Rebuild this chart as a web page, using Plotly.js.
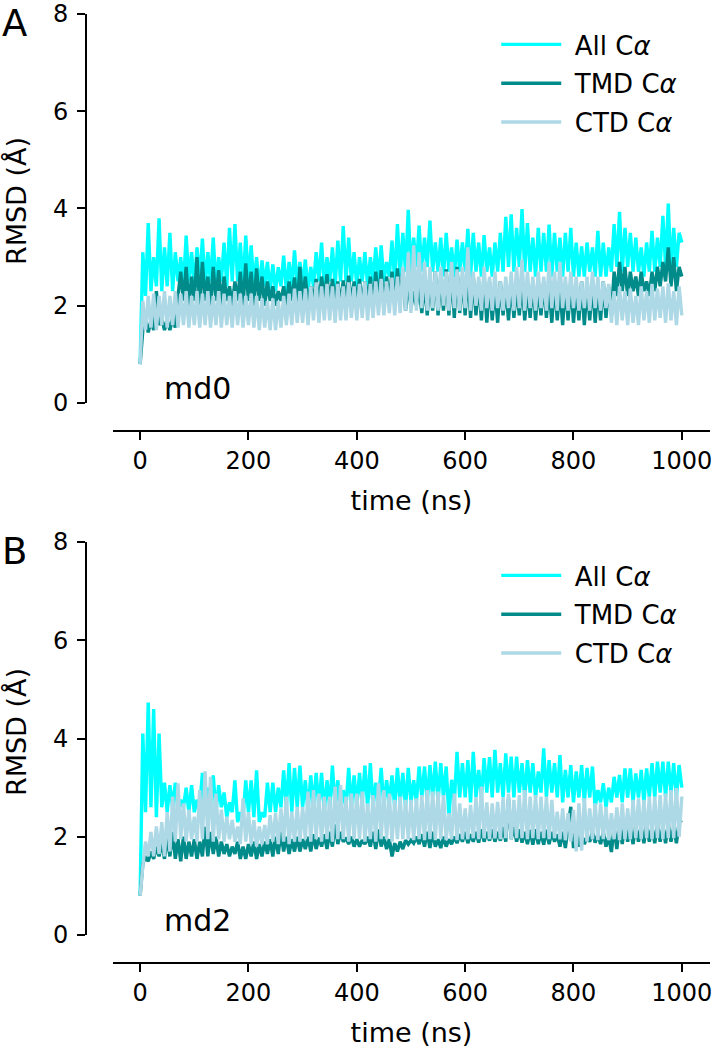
<!DOCTYPE html>
<html>
<head>
<meta charset="utf-8">
<script src="https://cdn.plot.ly/plotly-3.0.1.min.js"></script>
<style>
  html, body { margin: 0; padding: 0; background: #fff; }
  #graph { width: 714px; height: 1050px; }
</style>
</head>
<body>
<div id="graph"></div>
<script>
// RMSD traces, every 5 ns (0 .. 1000 ns)
var step = 5;

// panel A (md0)
var allA = [0.8,3.1,2.2,3.7,2.3,3.0,2.4,3.8,2.3,3.2,
  2.4,3.5,2.3,3.1,2.5,3.0,2.4,3.44,2.5,3.1,
  2.4,3.2,2.5,3.38,2.4,3.1,2.5,3.4,2.4,3.0,
  2.5,3.3,2.4,3.6,2.5,3.68,2.5,3.3,2.4,3.44,
  2.5,3.24,2.4,3.0,2.3,2.93,2.4,2.9,2.3,2.85,
  2.3,2.79,2.4,3.03,2.3,2.9,2.4,3.14,2.4,2.9,
  2.4,2.95,2.3,2.8,2.4,3.1,2.5,3.3,2.4,3.0,
  2.5,3.2,2.4,3.34,2.5,3.64,2.5,3.4,2.5,3.1,
  2.4,3.0,2.5,3.1,2.4,3.0,2.5,3.2,2.5,3.24,
  2.5,2.9,2.6,3.34,2.5,3.68,2.6,3.5,2.7,3.97,
  2.7,3.4,2.8,3.65,2.7,3.4,2.8,3.75,2.7,3.3,
  2.7,3.4,2.6,3.5,2.7,3.2,2.6,3.36,2.7,3.3,
  2.7,3.58,2.6,3.5,2.7,3.3,2.6,3.45,2.7,3.2,
  2.6,3.3,2.7,3.5,2.7,3.83,2.8,3.88,2.7,3.6,
  2.8,3.99,2.7,3.7,2.7,3.4,2.6,3.6,2.7,3.5,
  2.7,3.67,2.6,3.5,2.7,3.4,2.6,3.5,2.7,3.6,
  2.6,3.3,2.6,3.22,2.6,3.3,2.7,3.2,2.6,3.54,
  2.6,3.3,2.6,3.2,2.7,3.68,2.8,3.93,2.7,3.6,
  2.8,3.5,2.7,3.4,2.7,3.2,2.6,3.3,2.7,3.54,
  2.7,3.4,2.8,3.85,2.8,4.1,2.7,3.6,2.8,3.5,
  3.3];
var tmdA = [0.8,1.5,1.7,1.45,1.7,1.5,2.3,1.6,1.75,1.5,
  1.7,1.5,1.75,1.55,2.2,2.7,2.1,2.8,2.0,2.6,
  2.1,3.0,2.0,2.9,2.1,2.6,2.0,2.8,2.1,2.73,
  2.0,2.6,2.1,2.4,2.0,2.5,2.1,2.7,2.0,2.87,
  2.1,2.7,2.0,2.77,2.1,2.6,2.0,2.5,2.1,2.4,
  2.0,2.3,2.1,2.4,2.0,2.5,2.1,2.58,2.0,2.8,
  2.1,2.6,2.0,2.4,2.1,2.55,2.0,2.6,2.1,2.65,
  2.0,2.55,2.1,2.5,2.0,2.52,2.1,2.62,2.0,2.5,
  2.1,2.55,2.0,2.5,2.1,2.6,2.0,2.7,2.1,2.73,
  2.0,2.6,2.1,2.7,2.0,2.77,2.1,2.75,1.9,2.5,
  1.95,2.3,2.0,2.4,1.85,2.5,1.8,2.6,1.9,2.7,
  1.8,2.6,1.9,2.75,1.8,2.7,1.75,2.8,1.85,2.6,
  1.8,2.7,1.75,2.6,1.8,2.5,1.7,2.6,1.65,2.5,
  1.7,2.4,1.65,2.5,1.8,2.4,1.7,2.5,1.75,2.4,
  1.8,2.5,1.7,2.4,1.75,2.5,1.7,2.4,1.8,2.5,
  1.75,2.4,1.65,2.5,1.7,2.4,1.6,2.45,1.7,2.5,
  1.65,2.4,1.7,2.5,1.6,2.4,1.7,2.5,1.65,2.4,
  1.7,2.5,1.75,2.4,1.8,2.7,2.2,2.9,2.3,2.8,
  2.2,2.7,2.3,2.6,2.2,2.7,2.3,2.5,2.2,2.7,
  2.3,2.8,2.4,2.9,2.5,3.2,2.4,3.0,2.3,2.8,
  2.6];
var ctdA = [0.8,2.1,1.5,2.2,1.55,2.25,1.5,2.2,1.6,2.3,
  1.55,2.2,1.6,2.3,1.55,2.25,1.6,2.3,1.55,2.2,
  1.6,2.3,1.55,2.25,1.6,2.3,1.55,2.2,1.6,2.3,
  1.55,2.25,1.6,2.2,1.55,2.3,1.6,2.25,1.55,2.2,
  1.6,2.25,1.55,2.2,1.5,2.15,1.55,2.1,1.5,2.15,
  1.5,2.1,1.55,2.2,1.6,2.25,1.6,2.35,1.65,2.3,
  1.65,2.35,1.6,2.4,1.7,2.48,1.65,2.4,1.7,2.45,
  1.7,2.4,1.65,2.45,1.7,2.4,1.7,2.48,1.75,2.4,
  1.7,2.45,1.75,2.5,1.7,2.45,1.75,2.5,1.8,2.55,
  1.8,2.5,1.85,2.58,1.8,2.6,1.85,2.8,1.9,3.1,
  1.85,3.24,1.9,3.1,1.95,2.9,1.9,2.8,1.95,2.7,
  1.9,2.8,2.0,2.7,1.9,2.9,1.95,2.75,1.9,2.8,
  1.95,3.2,1.9,2.7,2.0,2.6,1.9,2.8,1.95,2.6,
  1.9,2.7,1.95,2.5,1.9,2.6,1.95,2.7,1.9,2.8,
  1.95,2.95,1.9,2.7,1.95,2.6,1.9,2.7,1.95,2.6,
  1.9,2.9,1.95,2.7,1.9,2.9,1.95,2.6,1.9,2.7,
  1.95,2.6,1.9,2.5,1.95,2.6,1.9,2.7,1.95,2.6,
  1.9,2.5,1.95,2.45,1.65,2.3,1.6,2.4,1.7,2.3,
  1.6,2.35,1.65,2.2,1.6,2.4,1.7,2.3,1.65,2.45,
  1.7,2.35,1.75,2.4,1.65,2.46,1.7,2.3,1.6,2.4,
  1.8];

// panel B (md2)
var allB = [0.8,4.1,2.5,4.73,2.6,4.6,2.4,4.1,2.6,3.1,
  2.5,3.05,2.6,3.1,2.5,2.75,2.6,3.0,2.5,3.05,
  2.5,2.75,2.6,3.3,2.5,3.0,2.6,3.25,2.5,3.05,
  2.6,2.9,2.4,2.7,2.5,3.15,2.3,2.5,2.4,3.15,
  2.5,3.15,2.4,3.35,2.3,2.5,2.4,3.1,2.5,3.1,
  2.5,3.0,2.6,3.35,2.6,3.5,2.5,3.4,2.6,3.45,
  2.6,3.15,2.5,3.25,2.6,3.3,2.6,3.3,2.5,3.15,
  2.6,3.45,2.6,3.15,2.5,2.95,2.6,3.4,2.6,3.25,
  2.6,3.3,2.7,3.45,2.6,3.5,2.6,3.1,2.7,3.4,
  2.6,3.15,2.7,3.25,2.6,3.4,2.7,3.3,2.6,3.4,
  2.7,3.15,2.7,3.43,2.8,3.43,2.7,3.46,2.8,3.53,
  2.7,3.5,2.8,3.43,2.4,3.16,2.7,3.73,2.8,3.5,
  2.8,3.56,2.7,3.73,2.8,3.36,2.8,3.6,2.9,3.62,
  2.8,3.77,2.9,3.5,2.8,3.7,2.9,3.63,2.8,3.63,
  2.9,3.5,2.8,3.56,2.9,3.5,2.8,3.33,2.9,3.8,
  2.8,3.56,2.9,3.5,2.8,3.66,2.7,3.36,2.8,3.46,
  2.7,3.33,2.8,3.46,2.7,3.4,2.8,3.43,2.6,2.95,
  2.7,3.09,2.6,3.0,2.7,3.22,2.8,3.26,2.7,3.39,
  2.8,3.39,2.7,3.29,2.8,3.36,2.7,3.39,2.8,3.5,
  2.8,3.53,2.9,3.53,2.8,3.53,2.9,3.5,2.8,3.46,
  3.0];
var tmdB = [0.8,1.45,1.6,1.5,1.7,1.55,1.8,1.6,1.9,1.55,
  2.0,1.6,2.1,1.55,1.95,1.5,2.0,1.55,1.9,1.6,
  1.95,1.55,1.9,1.6,2.2,1.6,2.1,1.65,2.0,1.6,
  1.9,1.65,1.85,1.6,1.8,1.65,1.9,1.55,1.8,1.55,
  1.85,1.6,1.9,1.55,1.85,1.6,1.9,1.65,1.95,1.6,
  2.0,1.65,2.1,1.7,2.0,1.65,1.95,1.7,2.0,1.7,
  1.95,1.75,2.0,1.7,2.05,1.75,1.98,1.8,2.05,1.75,
  2.1,1.8,2.25,1.85,2.1,1.9,1.98,1.85,2.0,1.8,
  1.95,1.8,1.93,1.85,2.0,1.8,2.1,1.75,2.15,1.8,
  2.0,1.75,1.95,1.6,1.87,1.7,1.9,1.75,1.93,1.85,
  1.93,1.87,2.0,1.85,2.05,1.8,2.1,1.77,2.1,1.8,
  1.95,1.77,2.0,1.8,1.95,1.85,2.0,1.87,2.05,1.9,
  2.1,1.87,2.05,1.9,2.1,1.88,2.15,1.9,2.1,1.92,
  2.15,1.9,2.1,1.92,2.2,1.9,2.78,1.95,2.2,1.9,
  2.15,1.88,2.1,1.85,2.14,1.84,2.15,1.85,2.1,1.84,
  2.14,1.85,2.1,1.9,2.05,1.8,2.1,1.77,2.2,2.61,
  1.77,2.1,1.8,2.05,1.85,2.0,1.9,2.1,1.88,2.05,
  1.85,2.1,1.8,2.0,1.69,2.2,1.75,2.25,1.85,2.27,
  1.9,2.2,1.85,2.25,1.9,2.2,1.87,2.27,1.9,2.2,
  1.87,2.25,1.9,2.2,1.87,2.27,1.9,2.2,1.87,2.3,
  2.34];
var ctdB = [0.8,1.4,1.9,1.6,2.1,1.6,2.21,1.65,2.3,1.6,
  2.5,1.7,2.82,1.9,3.09,1.95,2.68,1.9,2.55,1.95,
  2.41,1.9,2.95,1.95,3.33,1.95,3.22,1.9,2.88,1.95,
  2.55,1.9,2.41,1.95,2.34,1.9,2.21,1.85,2.78,1.9,
  2.5,1.85,2.34,1.8,2.21,1.85,2.24,1.85,2.44,1.9,
  2.48,1.85,2.58,1.9,2.82,1.85,2.51,1.9,2.61,1.9,
  2.61,1.95,2.92,1.9,2.95,1.95,2.88,1.9,2.82,1.95,
  2.82,1.9,3.02,1.95,3.05,1.95,2.82,1.9,2.88,1.95,
  2.88,1.95,2.92,1.9,2.68,1.95,2.85,1.9,3.09,1.95,
  2.95,1.95,2.88,1.9,2.75,1.95,2.82,1.95,2.75,1.95,
  2.75,1.93,2.78,1.95,2.85,1.93,2.95,1.95,2.92,1.93,
  2.92,1.95,2.85,1.93,2.48,1.95,2.88,1.93,2.68,1.95,
  2.58,1.95,2.65,1.97,2.8,1.95,3.02,1.97,2.7,1.95,
  2.68,1.97,2.71,1.95,2.8,1.97,2.88,1.95,2.75,1.97,
  2.85,1.97,2.95,1.95,2.82,1.97,2.85,1.95,2.82,1.97,
  2.82,1.95,2.75,1.97,2.51,1.95,2.58,1.93,2.48,1.9,
  2.55,1.7,2.68,1.72,2.78,1.9,2.58,1.95,2.68,1.93,
  2.68,1.95,2.61,1.93,2.48,1.95,2.6,1.93,2.68,1.95,
  2.58,1.95,2.75,1.97,2.78,1.95,2.75,1.97,2.82,1.95,
  2.82,1.97,2.85,1.95,2.88,1.97,2.95,1.97,2.99,2.0,
  2.82];

// \u2004 keeps a little extra gap between the legend line and its text
var names = ['\u2004All C<i>α</i>', '\u2004TMD C<i>α</i>', '\u2004CTD C<i>α</i>'];
var colors = ['#00ffff', '#008b8b', '#add8e6'];
var xTicks = [0, 200, 400, 600, 800, 1000];
var yTicks = [0, 2, 4, 6, 8];

var time = [];
for (var i = 0; i < allA.length; i++) time.push(i * step);

var font = 'DejaVu Sans, Verdana, sans-serif';

function line(y, k, xa, ya, leg) {
    return {
        type: 'scatter',
        mode: 'lines',
        name: names[k],
        x: time,
        y: y,
        xaxis: xa,
        yaxis: ya,
        legend: leg,
        legendgroup: leg + k,
        line: {color: colors[k], width: 3.4, simplify: false},
        hoverinfo: 'skip'
    };
}

var data = [
    line(allA, 0, 'x', 'y', 'legend'),
    line(tmdA, 1, 'x', 'y', 'legend'),
    line(ctdA, 2, 'x', 'y', 'legend'),
    line(allB, 0, 'x2', 'y2', 'legend2'),
    line(tmdB, 1, 'x2', 'y2', 'legend2'),
    line(ctdB, 2, 'x2', 'y2', 'legend2')
];

function xax(pos) {
    return {
        domain: [0.1583, 0.9944],
        anchor: 'free',
        position: pos,
        range: [-50, 1052],
        tickvals: xTicks,
        ticks: 'outside', ticklen: 8, tickwidth: 2, tickcolor: '#000',
        showline: true, linecolor: '#000', linewidth: 2,
        showgrid: false, zeroline: false,
        ticklabeloverflow: 'allow',
        tickfont: {family: font, size: 24, color: '#000'},
        title: {text: 'time (ns)', font: {family: font, size: 27, color: '#000'}, standoff: 16}
    };
}
function yax(dom) {
    return {
        domain: dom,
        anchor: 'free',
        position: 0.1204,
        range: [0, 8],
        tickvals: yTicks,
        ticks: 'outside', ticklen: 8, tickwidth: 2, tickcolor: '#000',
        showline: true, linecolor: '#000', linewidth: 2,
        showgrid: false, zeroline: false,
        ticklabeloverflow: 'allow',
        ticklabelstandoff: 4,
        tickfont: {family: font, size: 24, color: '#000'}
    };
}
function leg(top) {
    return {
        x: 0.695, xanchor: 'left',
        y: top, yanchor: 'top',
        bgcolor: 'rgba(0,0,0,0)',
        font: {family: font, size: 26, color: '#000'},
        itemwidth: 60,
        tracegroupgap: 2
    };
}
function label(txt, x, y, size, xref, yref, extra) {
    var a = {text: txt, xref: xref, yref: yref, x: x, y: y, xanchor: 'left', yanchor: 'top',
             showarrow: false, font: {family: font, size: size, color: '#000'}};
    for (var k in extra) a[k] = extra[k];
    return a;
}

var layout = {
    width: 714,
    height: 1050,
    margin: {l: 0, r: 0, t: 0, b: 0},
    paper_bgcolor: '#fff',
    plot_bgcolor: '#fff',
    showlegend: true,
    xaxis: xax(0.5895),
    yaxis: yax([0.6162, 0.9867]),
    xaxis2: xax(0.0829),
    yaxis2: yax([0.1095, 0.4838]),
    legend: leg(0.980),
    legend2: leg(0.4743),
    annotations: [
        label('A', 0, 1.0, 37, 'paper', 'paper', {}),
        label('B', 0, 0.497, 37, 'paper', 'paper', {}),
        label('RMSD (Å)', 0.024, 0.8086, 27, 'paper', 'paper',
              {textangle: -90, xanchor: 'center', yanchor: 'middle'}),
        label('RMSD (Å)', 0.024, 0.3029, 27, 'paper', 'paper',
              {textangle: -90, xanchor: 'center', yanchor: 'middle'}),
        label('md0', 40, 0.3, 30, 'x', 'y', {yanchor: 'middle'}),
        label('md2', 40, 0.3, 30, 'x2', 'y2', {yanchor: 'middle'})
    ]
};

Plotly.newPlot('graph', data, layout, {staticPlot: true});
</script>
</body>
</html>
